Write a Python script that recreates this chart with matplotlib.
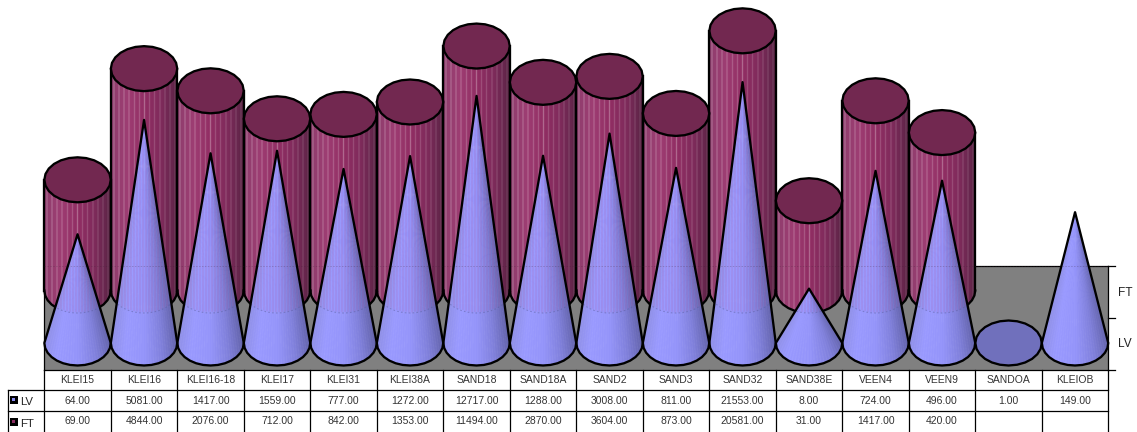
import numpy as np
import matplotlib
matplotlib.use("Agg")
import matplotlib.pyplot as plt
from matplotlib.patches import Polygon

plt.rcParams['font.family'] = ['Liberation Sans', 'DejaVu Sans']

# ---- data ----
samples = ["KLEI15", "KLEI16", "KLEI16-18", "KLEI17", "KLEI31", "KLEI38A", "SAND18", "SAND18A",
           "SAND2", "SAND3", "SAND32", "SAND38E", "VEEN4", "VEEN9", "SANDOA", "KLEIOB"]
lv_values = [64, 5081, 1417, 1559, 777, 1272, 12717, 1288, 3008, 811, 21553, 8, 724, 496, 1, 149]
ft_values = [69, 4844, 2076, 712, 842, 1353, 11494, 2870, 3604, 873, 20581, 31, 1417, 420, None, None]
series_labels = ["LV", "FT"]

# ---- layout, in pixels of the 1137x432 canvas ----
W, H = 1137, 432
COL_LEFT, COL_W = 44.3, 66.5
DECADE_PX = 60.2
LV_BASE_PX, FT_BASE_PX = 343.0, 290.5
WALL_TOP, WALL_BOTTOM, WALL_MID = 266, 370, 318
RX_PX, RY_PX = 33.2, 22.5
ROWS = [370, 390, 411, 432]
OUTLINE = 1.65

fig = plt.figure(figsize=(W / 100, H / 100), dpi=100, facecolor="white")

# Pixel-space layer for the wall, the side axis and the table
base = fig.add_axes([0, 0, 1, 1], zorder=1)
base.set_xlim(0, W)
base.set_ylim(H, 0)
base.axis("off")

# Value layer: x is the sample index, y is log10 of the count
ax = fig.add_axes([0, 0, 1, 1], zorder=2)
ax.patch.set_alpha(0)
ax.axis("off")
XLIM = ((0 - COL_LEFT) / COL_W - 0.5, (W - COL_LEFT) / COL_W - 0.5)
YLIM = ((LV_BASE_PX - H) / DECADE_PX, LV_BASE_PX / DECADE_PX)

RX = RX_PX / COL_W
RY = RY_PX / DECADE_PX
FT_BASE = (LV_BASE_PX - FT_BASE_PX) / DECADE_PX
EDGE = dict(edgecolor="black", linewidth=OUTLINE, joinstyle="round")


def ramp(u, stops):
    pos = np.array([s[0] for s in stops])
    return np.stack([np.interp(u, pos, [s[1][c] for s in stops]) for c in range(3)], axis=-1)


CYL_STOPS = [(-1, (.56, .24, .43)), (-.5, (.62, .24, .45)), (0, (.57, .18, .39)),
             (.5, (.50, .17, .36)), (.85, (.40, .15, .30)), (1, (.33, .13, .25))]
CONE_STOPS = [(-1, (.56, .56, .90)), (-.55, (.60, .60, 1.0)), (0, (.58, .58, .98)),
              (.5, (.50, .50, .86)), (1, (.38, .38, .66))]


def ellipse_points(cx, cy, start, stop, n):
    t = np.linspace(start, stop, n)
    return np.column_stack([cx + RX * np.cos(t), cy + RY * np.sin(t)])


def draw_cylinder(i, value):
    top = np.log10(value) + FT_BASE
    lower = ellipse_points(i, FT_BASE, np.pi, 2 * np.pi, 15)
    upper = ellipse_points(i, top, 0, np.pi, 15)
    body = np.vstack([lower, upper])

    nx, ny = 134, 4
    u = np.linspace(-1, 1, nx)
    rgb = ramp(u, CYL_STOPS)
    # Faceted highlight lines running along the barrel
    stripes = (np.abs(((u + 1) * 6.5) % 1 - 0.5) < 0.10) * (0.30 - 0.16 * (u + 1) / 2)
    stripes = stripes + (np.abs(u) < 0.02) * 0.15
    rgb = rgb + (1 - rgb) * stripes[..., None]
    img = np.repeat(rgb[None, :, :], ny, axis=0)
    im = ax.imshow(img, extent=(i - RX, i + RX, FT_BASE - RY, top + RY), origin="lower",
                   aspect="auto", interpolation="bilinear", zorder=3 + i * 0.01)
    clip = Polygon(body, closed=True, transform=ax.transData, facecolor="none", edgecolor="none")
    ax.add_patch(clip)
    im.set_clip_path(clip)

    ax.plot(lower[:, 0], lower[:, 1], color="black", lw=OUTLINE, solid_joinstyle="round",
            zorder=3.2 + i * 0.01)
    ax.plot([i - RX, i - RX], [FT_BASE, top], color="black", lw=OUTLINE, zorder=3.2 + i * 0.01)
    ax.plot([i + RX, i + RX], [FT_BASE, top], color="black", lw=OUTLINE, zorder=3.2 + i * 0.01)
    cap = Polygon(ellipse_points(i, top, 0, 2 * np.pi, 25), closed=True, facecolor="#722850",
                  zorder=3.3 + i * 0.01, **EDGE)
    ax.add_patch(cap)


def draw_cone(i, value):
    height = np.log10(value)
    if height == 0:
        ax.add_patch(Polygon(ellipse_points(i, 0, 0, 2 * np.pi, 25), closed=True,
                             facecolor="#7070BC", zorder=6, **EDGE))
        return
    lower = ellipse_points(i, 0, np.pi, 2 * np.pi, 15)
    outline = np.vstack([lower, [[i, height]]])

    nx, ny = 134, 260
    xs = np.linspace(-RX, RX, nx)
    ys = np.linspace(-RY, height, ny)
    X, Y = np.meshgrid(xs, ys)
    frac = np.clip((height - Y) / height, 0.02, None)
    u = np.clip(X / (RX * frac), -1, 1)
    rgb = ramp(u, CONE_STOPS)
    # Fine ribs converging on the apex, tinted pink where the barrel behind shows through
    ribs = (np.abs(((u + 1) * 14) % 1 - 0.5) < 0.14) * 0.07
    rgb = rgb + (1 - rgb) * ribs[..., None]
    if ft_values[i] is not None:
        seam = np.abs(((X / RX + 1) * 11) % 1 - 0.5) < 0.14
        behind = (Y > FT_BASE - RY * np.sqrt(np.clip(1 - (X / RX) ** 2, 0, 1))) & \
                 (Y < np.log10(ft_values[i]) + FT_BASE)
        tint = (seam & behind)[..., None] * 0.24
        rgb = rgb * (1 - tint) + np.array([.70, .28, .55]) * tint
    im = ax.imshow(rgb, extent=(i - RX, i + RX, -RY, height), origin="lower", aspect="auto",
                   interpolation="bilinear", zorder=5)
    clip = Polygon(outline, closed=True, transform=ax.transData, facecolor="none", edgecolor="none")
    ax.add_patch(clip)
    im.set_clip_path(clip)
    ax.add_patch(Polygon(outline, closed=True, facecolor="none", zorder=6, **EDGE))

    # Rear floor line of the back row, faintly visible on the cone
    if ft_values[i] is not None:
        arc = ellipse_points(i, FT_BASE, np.pi, 2 * np.pi, 25)
        half = RX * (height - arc[:, 1]) / height
        keep = np.abs(arc[:, 0] - i) < half
        ax.plot(arc[keep, 0], arc[keep, 1], color="#5A5A98", lw=0.8, ls=(0, (1.5, 2)),
                alpha=0.45, zorder=5.5)


for i, v in enumerate(ft_values):
    if v is not None:
        draw_cylinder(i, v)
for i, v in enumerate(lv_values):
    draw_cone(i, v)
ax.set_xlim(*XLIM)
ax.set_ylim(*YLIM)

# Top edge of the back wall stays faintly visible through the solids
wall_y = (LV_BASE_PX - WALL_TOP) / DECADE_PX
ax.plot([-0.5, len(samples) - 0.5], [wall_y, wall_y], color="#3A2030", lw=0.7, ls=(0, (1.5, 1.5)),
        alpha=0.22, zorder=5.7)

# Back wall and side axis
x0 = COL_LEFT
x1 = COL_LEFT + COL_W * len(samples)
base.fill_between([x0, x1], WALL_TOP, WALL_BOTTOM, color="#808080", lw=0)
base.plot([x0, x1], [WALL_TOP, WALL_TOP], color="black", lw=0.9)
base.plot([x0, x0], [WALL_TOP, WALL_BOTTOM], color="black", lw=0.9)
base.plot([x1, x1], [WALL_TOP, WALL_BOTTOM], color="black", lw=0.9)
for y in (WALL_TOP, WALL_MID, WALL_BOTTOM):
    base.plot([x1, x1 + 7], [y, y], color="black", lw=0.9)
base.text(1118, FT_BASE_PX + 2, "FT", fontsize=8.6, va="center", ha="left", color="#222222")
base.text(1118, LV_BASE_PX + 1, "LV", fontsize=8.6, va="center", ha="left", color="#222222")

# Data table below the plot
LEGEND_LEFT = 8
line = dict(color="black", lw=0.9, solid_capstyle="projecting")
base.plot([x0, x1], [ROWS[0], ROWS[0]], **line)
base.plot([LEGEND_LEFT, x1], [ROWS[1], ROWS[1]], **line)
base.plot([LEGEND_LEFT, x1], [ROWS[2], ROWS[2]], **line)
base.plot([LEGEND_LEFT, LEGEND_LEFT], [ROWS[1], H], **line)
for k in range(len(samples) + 1):
    xk = x0 + COL_W * k
    base.plot([xk, xk], [ROWS[0], H], **line)


def cell_text(v):
    return "" if v is None else f"{v:.2f}"


TEXT_GREY = "#333333"
for k, name in enumerate(samples):
    xc = x0 + COL_W * (k + 0.5)
    base.text(xc, 380, name, fontsize=7.5, ha="center", va="center", color=TEXT_GREY)
    base.text(xc, 400.5, cell_text(lv_values[k]), fontsize=7.5, ha="center", va="center", color=TEXT_GREY)
    base.text(xc, 421.5, cell_text(ft_values[k]), fontsize=7.5, ha="center", va="center", color=TEXT_GREY)

# Legend keys inside the row headers
for label, y, inner in zip(series_labels, (400, 422), ("#8888F0", "#8C2C62")):
    base.fill_between([10, 17.5], y - 4, y + 3.5, color="black", lw=0)
    base.fill_between([12.4, 15.2], y - 1.7, y + 1.2, color=inner, lw=0)
    base.text(20, y + 2, label, fontsize=8.2, ha="left", va="center", color="#222222")

fig.savefig("out.png", dpi=100, facecolor="white")
